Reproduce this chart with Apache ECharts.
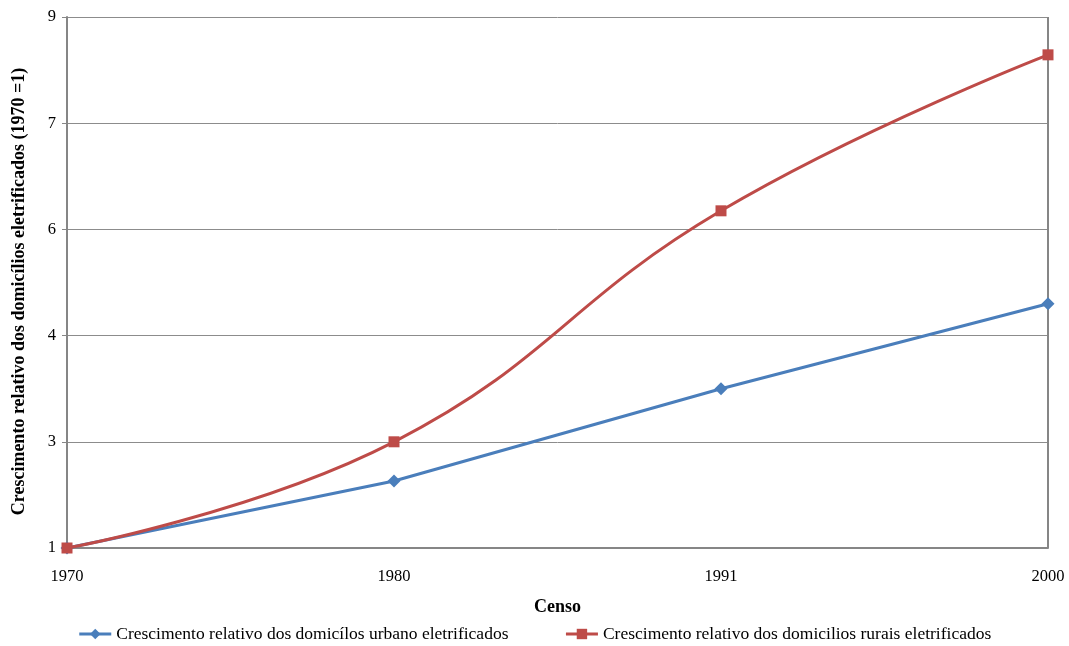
<!DOCTYPE html>
<html>
<head>
<meta charset="utf-8">
<script src="https://cdn.jsdelivr.net/npm/echarts@6/dist/echarts.min.js"></script>
<style>
  html, body { margin: 0; padding: 0; background: #fff; }
  #chart { width: 1069px; height: 646px; }
</style>
</head>
<body>
<div id="chart"></div>
<script>
// census years (x axis categories)
var years = ['1970', '1980', '1991', '2000'];
// relative growth, 1970 = 1
var urbano = [1, 2.01, 3.40, 4.68];
var rurais = [1, 2.60, 6.08, 8.43];

var urbanoName = 'Crescimento relativo dos domicílos urbano eletrificados';
var ruraisName = 'Crescimento relativo dos domicilios rurais eletrificados';

var serif = '"Liberation Serif", "DejaVu Serif", serif';

var myChart = echarts.init(document.getElementById('chart'), null, { renderer: 'canvas' });

var option = {
  animation: false,
  textStyle: { fontFamily: serif },
  grid: {
    left: 67,
    right: 21,
    top: 17,
    bottom: 98,
    containLabel: false,
    outerBoundsMode: 'none'
  },
  legend: {
    top: 620,
    left: 'center',
    itemGap: 56,
    itemWidth: 32,
    itemHeight: 13,
    lineStyle: { width: 3 },
    textStyle: { fontFamily: serif, fontSize: 17.5, color: '#000' },
    data: [urbanoName, ruraisName]
  },
  xAxis: {
    type: 'category',
    data: years,
    boundaryGap: false,
    name: 'Censo',
    nameLocation: 'middle',
    nameGap: 50,
    nameTextStyle: { fontFamily: serif, fontSize: 18, fontWeight: 'bold', color: '#000' },
    axisLine: { lineStyle: { color: '#868686', width: 2 } },
    axisTick: { show: false },
    axisLabel: { margin: 20, fontSize: 16.5, color: '#000', fontFamily: serif }
  },
  yAxis: {
    type: 'value',
    min: 1,
    max: 9,
    interval: 1.6,
    name: 'Crescimento relativo dos domicílios eletrificados (1970 =1)',
    nameLocation: 'middle',
    nameGap: 39,
    nameTextStyle: {
      fontFamily: serif,
      fontSize: 18,
      fontWeight: 'bold',
      color: '#000',
      padding: [0, 18, 0, 0]
    },
    axisLine: { show: true, lineStyle: { color: '#868686', width: 2 } },
    axisTick: { show: true, length: 5, inside: false, lineStyle: { color: '#868686' } },
    axisLabel: {
      margin: 11,
      fontSize: 16.5,
      color: '#000',
      fontFamily: serif,
      formatter: function (v) { return String(Math.round(v)); }
    },
    splitLine: { lineStyle: { color: '#8c8c8c', width: 1 } }
  },
  series: [
    {
      name: urbanoName,
      type: 'line',
      data: urbano,
      symbol: 'diamond',
      symbolSize: 13,
      itemStyle: { color: '#4A7EBB' },
      lineStyle: { color: '#4A7EBB', width: 3 },
      z: 3
    },
    {
      name: ruraisName,
      type: 'line',
      data: rurais,
      smooth: 0.45,
      symbol: 'rect',
      symbolSize: 11,
      itemStyle: { color: '#BE4B48' },
      lineStyle: { color: '#BE4B48', width: 3 },
      z: 4
    }
  ]
};

myChart.setOption(option);

// right border of the plot area
var rect = myChart.getModel().getComponent('grid').coordinateSystem.getRect();
myChart.setOption({
  graphic: [{
    type: 'line',
    shape: { x1: rect.x + rect.width, y1: rect.y, x2: rect.x + rect.width, y2: rect.y + rect.height },
    style: { stroke: '#868686', lineWidth: 2 },
    z: 1
  }]
});

window.addEventListener('resize', myChart.resize);
</script>
</body>
</html>
